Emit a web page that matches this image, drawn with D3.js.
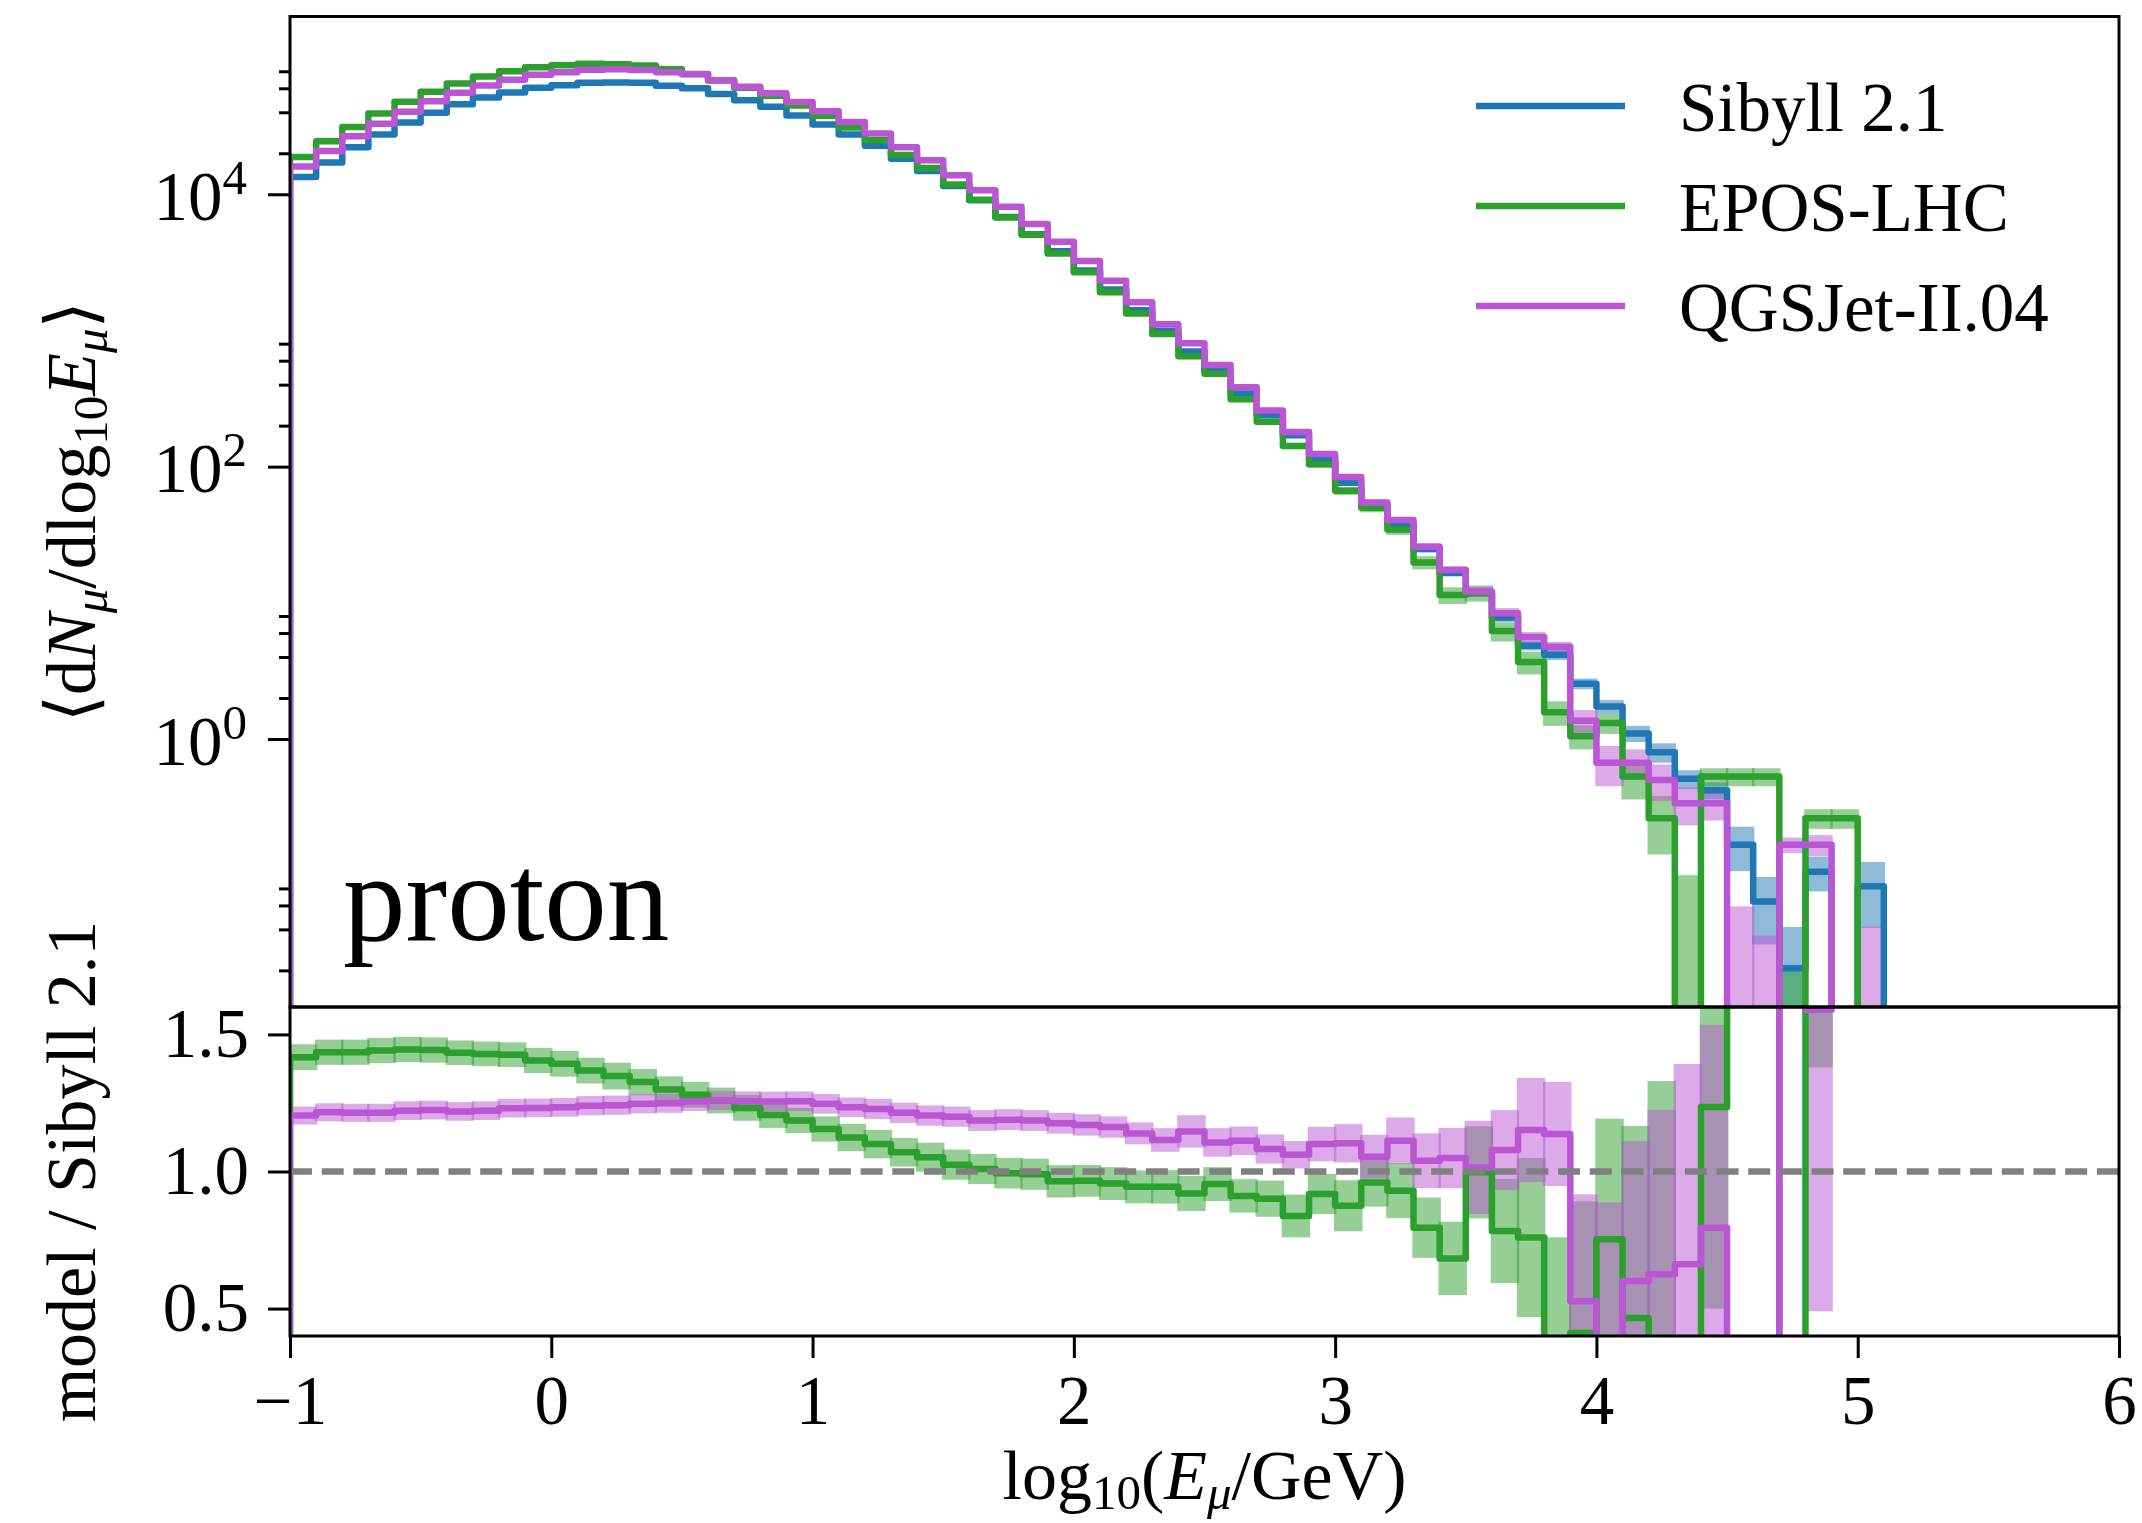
<!DOCTYPE html>
<html><head><meta charset="utf-8">
<script src="https://cdn.jsdelivr.net/npm/d3@7"></script>
<style>body{margin:0;background:#fff}svg{display:block}</style>
</head><body>
<svg id="c" width="2142" height="1523"></svg>
<script>
// ---- data ----
const binStart = [-1.0,-0.9,-0.8,-0.7,-0.6,-0.5,-0.4,-0.3,-0.2,-0.1,0.0,0.1,0.2,0.3,0.4,0.5,0.6,0.7,0.8,0.9,1.0,1.1,1.2,1.3,1.4,1.5,1.6,1.7,1.8,1.9,2.0,2.1,2.2,2.3,2.4,2.5,2.6,2.7,2.8,2.9,3.0,3.1,3.2,3.3,3.4,3.5,3.6,3.7,3.8,3.9,4.0,4.1,4.2,4.3,4.4,4.5,4.6,4.7,4.8,4.9,5.0];
const binWidth = 0.1;
const models = ["Sibyll 2.1","EPOS-LHC","QGSJet-II.04"];
const colors = ["#1f77b4","#2ca02c","#ba55d3"];

const sibyll = [13400,17100,22100,27500,33700,39700,45900,51400,56000,60500,
 63300,65900,66300,65900,62600,60000,54500,49100,43900,37800,
 32600,27500,22700,18200,14800,11500,9020,6800,5090,3810,
 2760,2000,1410,996,702,504,344,238,170,113,
 76,52,37.5,24.8,16.6,11.8,7.8,4.85,4.15,2.55,
 1.73,1.10,0.80,0.51,0.42,0.167,0.064,0.0207,0.106,0,0.083];
const epos = [18800,24500,31200,39200,47800,56600,65100,73100,80100,85600,
 88700,90800,90000,88100,82900,76500,68600,60500,52900,44900,
 37700,30900,24900,19400,15600,11800,9100,6760,5040,3670,
 2670,1910,1330,940,646,481,313,214,142,104,
 66.5,50,34.5,19.8,11.4,11.8,6.2,3.68,1.57,1.05,
 1.31,0.53,0.262,0,0.53,0.53,0.53,0,0.262,0.262,0];
const qgsjet = [16000,20800,26700,33000,40400,48200,55600,62800,69300,75300,
 78800,82200,82800,81800,78800,76200,68800,61600,55100,47500,
 40700,34000,27900,22100,17800,13800,10700,8090,6040,4480,
 3230,2320,1610,1110,804,557,382,258,180,124,
 84,54.5,40.5,25.8,17.4,12.1,8.4,5.6,4.76,1.36,
 0.67,0.67,0.50,0.337,0.337,0,0,0.167,0.167,0,0];

const sibyllErr = [100,120,150,180,210,240,270,290,310,320,
 330,340,340,340,330,320,300,280,260,240,
 210,190,170,150,130,110,95,80,65,52,
 42,34,27,21,16,12.5,9.5,7,5.5,4,
 3.0,2.3,1.8,1.3,1.0,0.75,0.55,0.38,0.35,0.23,
 0.2,0.15,0.13,0.08,0.06,0.06,0.033,0.021,0.03,0,0.042];
const eposErr = [180,230,280,330,390,440,490,530,570,600,
 610,620,610,600,570,540,500,460,420,380,
 330,290,250,210,180,150,125,100,85,70,
 55,45,36,28,22,17,13,10,7.5,6,
 4.5,3.8,3.0,2.2,1.6,1.6,1.0,0.7,0.32,0.21,
 0.22,0.17,0.12,0.1,0.08,0.08,0.08,0.02,0.043,0.043,0];
const qgsjetErr = [130,170,210,250,290,330,360,390,420,440,
 450,460,460,450,440,430,400,370,340,310,
 280,250,220,190,160,135,115,95,78,63,
 50,40,32,25,20,15,11.5,8.5,6.5,5,
 3.6,2.7,2.2,1.6,1.2,1.0,0.75,0.5,0.4,0.27,
 0.22,0.17,0.15,0.105,0.085,0.059,0.036,0.022,0.03,0,0.042];

const eposRatio = [1.417,1.435,1.435,1.441,1.445,1.443,1.433,1.429,1.426,1.405,
 1.393,1.368,1.348,1.326,1.299,1.280,1.259,1.232,1.206,1.186,
 1.155,1.124,1.100,1.070,1.052,1.025,1.009,0.994,0.990,0.964,
 0.966,0.956,0.944,0.944,0.920,0.954,0.911,0.901,0.838,0.918,
 0.875,0.960,0.930,0.795,0.683,0.997,0.783,0.759,0.38,0.411,
 0.753,0.466,0.33,0,1.235,3.2,8.3,0,2.47,null,null];
const qgsjetRatio = [1.204,1.216,1.214,1.214,1.222,1.224,1.219,1.222,1.231,1.232,
 1.234,1.240,1.242,1.247,1.249,1.256,1.259,1.256,1.255,1.256,
 1.247,1.234,1.228,1.214,1.204,1.200,1.186,1.189,1.186,1.176,
 1.170,1.162,1.139,1.115,1.146,1.106,1.112,1.082,1.061,1.100,
 1.103,1.054,1.112,1.039,1.049,1.015,1.078,1.151,1.137,0.527,
 0.387,0.601,0.625,0.662,0.795,0,0,8.07,1.59,10,null];
const eposRatioErr = [0.047,0.046,0.046,0.046,0.046,0.046,0.045,0.045,0.045,0.046,
 0.047,0.047,0.049,0.048,0.048,0.047,0.047,0.047,0.047,0.046,
 0.046,0.05,0.052,0.052,0.053,0.055,0.055,0.056,0.057,0.059,
 0.058,0.06,0.06,0.061,0.064,0.062,0.061,0.066,0.078,0.073,
 0.093,0.088,0.10,0.11,0.134,0.168,0.19,0.29,0.38,0.48,
 0.44,0.70,1.0,0,0.735,1.2,4.0,0,1.09,null,null];
const qgsjetRatioErr = [0.033,0.033,0.033,0.033,0.034,0.034,0.034,0.034,0.034,0.034,
 0.034,0.035,0.035,0.035,0.035,0.035,0.035,0.036,0.036,0.036,
 0.036,0.036,0.037,0.037,0.037,0.037,0.038,0.038,0.038,0.038,
 0.039,0.039,0.04,0.043,0.059,0.052,0.052,0.053,0.05,0.063,
 0.07,0.08,0.085,0.10,0.11,0.17,0.146,0.19,0.19,0.39,
 0.50,0.51,0.60,0.73,0.74,0,0,3.0,1.1,null,null];

const xTicks = [-1,0,1,2,3,4,5,6];
const yTopMajor = [1,100,10000];
const yTopMinor = [0.02,0.04,0.06,0.08,2,4,6,8,200,400,600,800,20000,40000,60000,80000];
const yRatTicks = [0.5,1.0,1.5];

// ---- layout ----
const L=290, R=2119, T=16.5, M=1007, B=1336;
const LW = 6.5;
const FONT = "'Liberation Serif','Times New Roman','DejaVu Serif',serif";
const svg = d3.select('#c');
const x = d3.scaleLinear().domain([-1,6]).range([L,R]);
const yTop = d3.scaleLog().domain([0.01077, 2.02e5]).range([M,T]);
const yRat = d3.scaleLinear().domain([0.4,1.6]).range([B,M]);
const topY = v => yTop(v>0 ? v : 1e-4);
const ratY = v => yRat(Math.max(-5, Math.min(50, v)));

const defs = svg.append('defs');
defs.append('clipPath').attr('id','clipTop').append('rect').attr('x',L).attr('y',T).attr('width',R-L).attr('height',M-T);
defs.append('clipPath').attr('id','clipRat').append('rect').attr('x',L).attr('y',M).attr('width',R-L).attr('height',B-M);

const gTop = svg.append('g').attr('clip-path','url(#clipTop)');
const gRat = svg.append('g').attr('clip-path','url(#clipRat)');

function bands(g, vals, errs, yfn, color){
  binStart.forEach((b,i)=>{
    const v=vals[i], e=errs[i];
    if(v==null||e==null||e<=0) return;
    const y1=yfn(v+e), y2=yfn(v-e);
    g.append('rect').attr('x',x(b)-1.2).attr('width',x(b+binWidth)-x(b)+2.4)
      .attr('y',Math.min(y1,y2)).attr('height',Math.abs(y2-y1))
      .attr('fill',color).attr('fill-opacity',0.5);
  });
}
function stepPts(vals, base){
  const pts=[{x:binStart[0], v:base}];
  vals.forEach((v,i)=>{
    if(v==null){ pts.push({x:binStart[i], v:null}); return; }
    pts.push({x:binStart[i], v:v},{x:binStart[i]+binWidth, v:v});
  });
  if(vals[vals.length-1]!=null) pts.push({x:binStart[vals.length-1]+binWidth, v:base});
  return pts;
}
function stepLine(g, vals, yfn, base, color){
  const line = d3.line().defined(d=>d.v!=null).x(d=>x(d.x)).y(d=>yfn(d.v));
  g.append('path').attr('d', line(stepPts(vals, base))).attr('fill','none')
    .attr('stroke',color).attr('stroke-width',LW).attr('stroke-linejoin','round');
}

// top panel
const topVals = [sibyll, epos, qgsjet], topErrs = [sibyllErr, eposErr, qgsjetErr];
topVals.forEach((v,k)=>bands(gTop, v, topErrs[k], topY, colors[k]));
topVals.forEach((v,k)=>stepLine(gTop, v, topY, 0, colors[k]));

// ratio panel
const ratVals = [eposRatio, qgsjetRatio], ratErrs=[eposRatioErr, qgsjetRatioErr];
ratVals.forEach((v,k)=>bands(gRat, v, ratErrs[k], ratY, colors[k+1]));
ratVals.forEach((v,k)=>stepLine(gRat, v, ratY, -1, colors[k+1]));
gRat.append('line').attr('x1',L).attr('x2',R).attr('y1',yRat(1)).attr('y2',yRat(1))
  .attr('stroke','#808080').attr('stroke-width',6.5).attr('stroke-dasharray','22 9.7');

// spines
svg.append('rect').attr('x',L).attr('y',T).attr('width',R-L).attr('height',M-T).attr('fill','none').attr('stroke','#000').attr('stroke-width',3);
svg.append('rect').attr('x',L).attr('y',M).attr('width',R-L).attr('height',B-M).attr('fill','none').attr('stroke','#000').attr('stroke-width',3);

function styleAxis(g){
  g.select('.domain').remove();
  g.selectAll('.tick line').attr('stroke','#000').attr('stroke-width',3);
  g.selectAll('text').attr('font-family',FONT).attr('font-size',69).attr('fill','#000');
}
// x axis
const gx = svg.append('g').attr('transform',`translate(0,${B})`)
  .call(d3.axisBottom(x).tickValues(xTicks).tickSize(22).tickPadding(17)
    .tickFormat(d => d<0 ? '\u2212'+Math.abs(d) : String(d)));
styleAxis(gx);

// top y axis major
const gyt = svg.append('g').attr('transform',`translate(${L},0)`)
  .call(d3.axisLeft(yTop).tickValues(yTopMajor).tickSize(22).tickPadding(21).tickFormat(()=>''));
styleAxis(gyt);
gyt.selectAll('.tick text').each(function(d){
  const t=d3.select(this).attr('dy',null).attr('y',25).attr('text-anchor','end');
  t.text(null);
  t.append('tspan').text('10');
  t.append('tspan').attr('font-size',49).attr('dy',-26).text(String(Math.round(Math.log10(d))));
});
const gytm = svg.append('g').attr('transform',`translate(${L},0)`)
  .call(d3.axisLeft(yTop).tickValues(yTopMinor).tickSize(11).tickFormat(()=>''));
styleAxis(gytm);

// ratio y axis
const gyr = svg.append('g').attr('transform',`translate(${L},0)`)
  .call(d3.axisLeft(yRat).tickValues(yRatTicks).tickSize(22).tickPadding(19).tickFormat(d3.format('.1f')));
styleAxis(gyr);

// axis labels
const xl = svg.append('text').attr('x',(L+R)/2).attr('y',1499).attr('text-anchor','middle')
  .attr('font-family',FONT).attr('font-size',70);
xl.append('tspan').text('log');
xl.append('tspan').attr('font-size',49).attr('dy',10).text('10');
xl.append('tspan').attr('dy',-10).text('(');
xl.append('tspan').attr('font-style','italic').text('E');
xl.append('tspan').attr('font-style','italic').attr('font-size',49).attr('dy',10).text('\u03bc');
xl.append('tspan').attr('dy',-10).text('/GeV)');

const yl = svg.append('text').attr('transform',`translate(95,${(T+M)/2}) rotate(-90)`)
  .attr('text-anchor','middle').attr('font-family',FONT).attr('font-size',70);
yl.append('tspan').text('\u27e8d');
yl.append('tspan').attr('font-style','italic').text('N');
yl.append('tspan').attr('font-style','italic').attr('font-size',49).attr('dy',12).text('\u03bc');
yl.append('tspan').attr('dy',-12).text('/dlog');
yl.append('tspan').attr('font-size',49).attr('dy',12).text('10');
yl.append('tspan').attr('dy',-12).attr('font-style','italic').text('E');
yl.append('tspan').attr('font-style','italic').attr('font-size',49).attr('dy',12).text('\u03bc');
yl.append('tspan').attr('dy',-12).text('\u27e9');

svg.append('text').attr('transform',`translate(95,${(M+B)/2}) rotate(-90)`)
  .attr('text-anchor','middle').attr('font-family',FONT).attr('font-size',70)
  .text('model / Sibyll 2.1');

// annotation
svg.append('text').attr('x',343).attr('y',940).attr('font-family',FONT).attr('font-size',125).text('proton');

// legend
models.forEach((m,k)=>{
  const y0 = 106 + k*100;
  svg.append('line').attr('x1',1476).attr('x2',1625).attr('y1',y0).attr('y2',y0)
    .attr('stroke',colors[k]).attr('stroke-width',LW);
  svg.append('text').attr('x',1679).attr('y',y0+24.5).attr('font-family',FONT).attr('font-size',69).text(m);
});
</script>
</body></html>
